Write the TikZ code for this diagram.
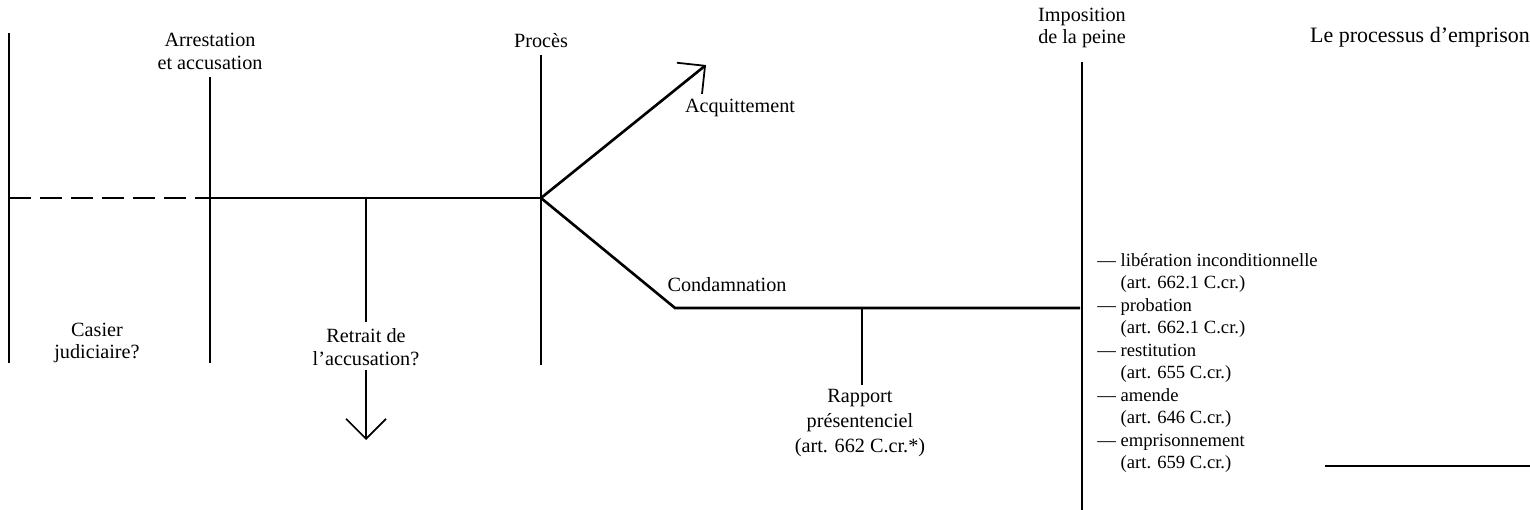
\documentclass[tikz,border=0pt]{standalone}
\usepackage{fontspec}
\setmainfont{Liberation Serif}
\usepackage{tikz}
\usetikzlibrary{arrows.meta}

\begin{document}
\begin{tikzpicture}[x=0.02cm, y=-0.02cm,
    lbl/.style={inner sep=0, align=center, font=\fontsize{11.5}{13}\selectfont},
    stage/.style={line width=0.8pt},
    track/.style={line width=1.5pt},
    barb/.style={-{Straight Barb[length=4mm, width=8mm, line width=1pt]}}]
\useasboundingbox (0,0) rectangle (1530,510);

% labels
\node[lbl] (arrest) at (210,51) {Arrestation\\et accusation};
\node[lbl] (proces) at (541,41) {Procès};
\node[lbl] (imposition) at (1082,28) {Imposition\\de la peine};
\node[lbl, font=\fontsize{12.5}{15}\selectfont] (title) at (1420,37) {Le processus d'emprison};
\node[lbl] (casier) at (97,343) {Casier\\judiciaire?};
\node[lbl] (retrait) at (366,347) {Retrait de\\l'accusation?};
\node[lbl] (acquit) at (740,108) {Acquittement};
\node[lbl] (condamn) at (727,285) {Condamnation};
\node[lbl, font=\fontsize{11.5}{14.2}\selectfont] (rapport) at (860,423) {Rapport\\présentenciel\\(art. 662 C.cr.*)};
\node[lbl, font=\fontsize{10.6}{12.8}\selectfont, align=left, anchor=north west] (peines) at (1097,253)
  {— libération inconditionnelle\\\phantom{— }(art. 662.1 C.cr.)\\
   — probation\\\phantom{— }(art. 662.1 C.cr.)\\
   — restitution\\\phantom{— }(art. 655 C.cr.)\\
   — amende\\\phantom{— }(art. 646 C.cr.)\\
   — emprisonnement\\\phantom{— }(art. 659 C.cr.)};

% points on the time line
\coordinate (start) at (9,198);
\coordinate (a) at (210,198);
\coordinate (r) at (366,198);
\coordinate (p) at (541,198);
\coordinate (out) at (706,65);
\coordinate (bend) at (675,308);
\coordinate (s) at (1080,308);
\coordinate (rp) at (862,308);

% stages
\draw[stage] (9,33) -- (9,363);
\draw[stage] (210,77) -- (210,363);
\draw[stage] (541,55) -- (541,365);
\draw[stage] (1082,62) -- (1082,510);

% time line
\draw[track, dash pattern=on 0.44cm off 0.18cm] (start) -- (a);
\draw[track] (a) -- (p);
\draw[track, barb] (p) -- (out);
\draw[track] (p) -- (bend) -- (s);
\draw[stage] (r) -- (366,322);
\draw[stage, barb] (366,370) -- (366,440);
\draw[stage] (rp) -- (862,385);
\draw[track] (1325,466) -- (1530,466);
\end{tikzpicture}
\end{document}
